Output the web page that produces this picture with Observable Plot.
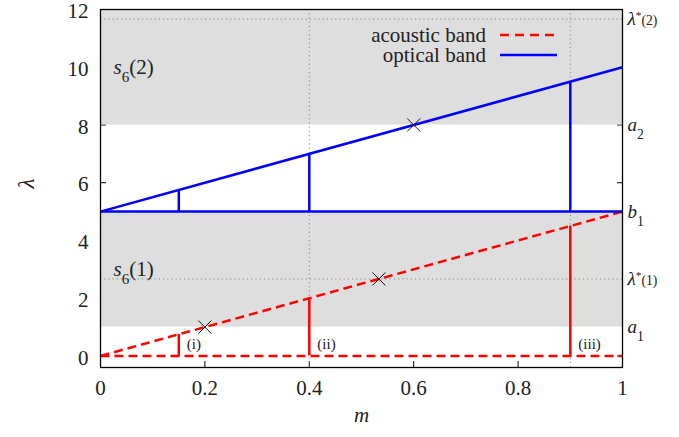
<!DOCTYPE html>
<html><head><meta charset="utf-8">
<script src="https://cdn.jsdelivr.net/npm/d3@7"></script>
<script src="https://cdn.jsdelivr.net/npm/@observablehq/plot@0.6"></script>
<style>
body{margin:0;background:#fff;}
#wrap{position:relative;width:679px;height:437px;font-family:"Liberation Serif","Times New Roman",serif;color:#222;}
#legend{position:absolute;left:300px;top:25px;font-size:21px;}
#legend .row{display:flex;align-items:center;justify-content:flex-end;height:20px;line-height:20px;}
#legend .row span{width:186px;text-align:right;white-space:nowrap;}
#legend svg{margin-left:14px;}
</style></head><body><div id="wrap"><div id="legend"></div></div>
<script>
// ---- data ----
const xTicks = [0, 0.2, 0.4, 0.6, 0.8, 1];
const xTickLabels = ["0", "0.2", "0.4", "0.6", "0.8", "1"];
const yTicks = [0, 2, 4, 6, 8, 10, 12];
const yTickLabels = ["0", "2", "4", "6", "8", "10", "12"];
const bandLow = [1, 8];
const bandHigh = [5, 12];
const bandNames = ["<i>s</i><sub>6</sub>(1)", "<i>s</i><sub>6</sub>(2)"];
const lambdaStar = [8/3, 35/3];
const dottedM = [0.4, 0.9];
const rightValues = [35/3, 8, 5, 8/3, 1];
const rightLabels = ["<i>λ</i><sup>*</sup><small>(2)</small>", "<i>a</i><sub>2</sub>", "<i>b</i><sub>1</sub>", "<i>λ</i><sup>*</sup><small>(1)</small>", "<i>a</i><sub>1</sub>"];
const lineM = [0, 1];
const acousticTop = [0, 5];
const acousticBase = [0, 0];
const opticalTop = [5, 10];
const opticalBase = [5, 5];
const cutM = [0.15, 0.4, 0.9];
const acousticCut = [0.75, 2, 4.5];
const opticalCut = [5.75, 7, 9.5];
const cutLabels = ["(i)", "(ii)", "(iii)"];
const crossM = [0.2, 8/15, 0.6];
const crossLambda = [1, 8/3, 8];
const seriesNames = ["acoustic band", "optical band"];
const seriesColors = ["#ff0000", "#0000ff"];

// ---- derived tables ----
const bands = bandLow.map((l, i) => ({low: l, high: bandHigh[i], name: bandNames[i]}));
const seg = (ys) => ({x1: lineM[0], y1: ys[0], x2: lineM[1], y2: ys[1]});
const acousticSegs = [seg(acousticTop), seg(acousticBase)];
const opticalSegs = [seg(opticalTop), seg(opticalBase)];
const cuts = cutM.map((m, i) => ({m, a: acousticCut[i], o: opticalCut[i], label: cutLabels[i]}));
const crosses = crossM.map((m, i) => ({m, l: crossLambda[i]}));
const right = rightValues.map((v, i) => ({v, label: rightLabels[i]}));
const fmt = (arr, labels) => d => labels[arr.indexOf(d)];
const dotted = {stroke: "#8a8a8a", strokeWidth: 1, strokeDasharray: "1.2,3"};

const plot = Plot.plot({
  width: 679, height: 437,
  marginLeft: 100, marginRight: 57, marginTop: 9, marginBottom: 70,
  x: {domain: [0, 1]},
  y: {domain: [-0.4, 12]},
  style: {fontFamily: "'Liberation Serif', 'Times New Roman', serif", fontSize: "20px", color: "#222", background: "white"},
  marks: [
    Plot.axisY(yTicks, {anchor: "left", tickSize: -6, tickFormat: () => "", stroke: "#000", label: null}),
    Plot.axisY(yTicks, {anchor: "right", tickSize: -6, tickFormat: () => "", stroke: "#000", label: null}),
    Plot.axisX(xTicks, {anchor: "bottom", tickSize: -6, tickFormat: () => "", stroke: "#000", label: null}),
    Plot.axisX(xTicks, {anchor: "top", tickSize: -6, tickFormat: () => "", stroke: "#000", label: null}),
    Plot.rect(bands, {x1: 0, x2: 1, y1: "low", y2: "high", fill: "#dedede"}),
    Plot.ruleY(lambdaStar, {...dotted}),
    Plot.ruleX(dottedM, {...dotted}),
    Plot.link(acousticSegs, {x1: "x1", y1: "y1", x2: "x2", y2: "y2", stroke: seriesColors[0], strokeWidth: 2.5, strokeDasharray: "9,5"}),
    Plot.ruleX(cuts, {x: "m", y1: 0, y2: "a", stroke: seriesColors[0], strokeWidth: 2.5}),
    Plot.link(opticalSegs, {x1: "x1", y1: "y1", x2: "x2", y2: "y2", stroke: seriesColors[1], strokeWidth: 2.5}),
    Plot.ruleX(cuts, {x: "m", y1: 5, y2: "o", stroke: seriesColors[1], strokeWidth: 2.5}),
    Plot.dot(crosses, {x: "m", y: "l", symbol: "times", r: 6, stroke: "#111", strokeWidth: 1}),
    Plot.text(cuts, {x: "m", y: 0, text: "label", dx: 8, dy: -12, textAnchor: "start", fontSize: 15}),
    Plot.text(bands, {x: 0, y: d => d.high - 2, text: "name", dx: 13, textAnchor: "start", fontSize: 21}),
    Plot.text(right, {y: "v", text: "label", frameAnchor: "right", dx: 5, textAnchor: "start", fontSize: 19}),
    Plot.frame({stroke: "#000", strokeWidth: 1.3}),
    Plot.axisY(yTicks, {anchor: "left", tickSize: 0, tickPadding: 12, dy: 2, tickFormat: fmt(yTicks, yTickLabels), label: null, fontSize: 21}),
    Plot.axisX(xTicks, {anchor: "bottom", tickSize: 0, tickPadding: 13, tickFormat: fmt(xTicks, xTickLabels), label: null, fontSize: 21}),
    Plot.text(["<i>m</i>"], {frameAnchor: "bottom", dy: 54, fontSize: 21}),
    Plot.text(["<i>λ</i>"], {frameAnchor: "left", dx: -74, rotate: -90, fontSize: 23})
  ]
});

// rich text: convert <i>, <sub>, <sup>, <small> markup into tspans
d3.select(plot).selectAll("text").each(function() {
  const s = this.textContent;
  if (!s.includes("<")) return;
  const el = d3.select(this);
  el.text("");
  const st = {i: false, sub: false, sup: false, small: false};
  for (const p of s.split(/(<\/?(?:i|sub|sup|small)>)/).filter(Boolean)) {
    const m = p.match(/^<(\/?)(i|sub|sup|small)>$/);
    if (m) { st[m[2]] = !m[1]; continue; }
    const t = el.append("tspan").text(p);
    if (st.i) t.attr("font-style", "italic");
    if (st.sub) t.attr("baseline-shift", "sub").attr("font-size", "0.72em");
    if (st.sup) t.attr("baseline-shift", "super").attr("font-size", "0.6em");
    if (st.small) t.attr("font-size", "0.72em");
  }
});
document.getElementById("wrap").prepend(plot);

// legend
const legend = d3.select("#legend");
seriesNames.forEach((name, i) => {
  const row = legend.append("div").attr("class", "row");
  row.append("span").text(name);
  const sv = row.append("svg").attr("width", 57).attr("height", 20);
  sv.append("line").attr("x1", 0).attr("x2", 57).attr("y1", 10).attr("y2", 10)
    .attr("stroke", seriesColors[i]).attr("stroke-width", 2.5)
    .attr("stroke-dasharray", i === 0 ? "9,6" : null);
});
</script>
</body></html>
